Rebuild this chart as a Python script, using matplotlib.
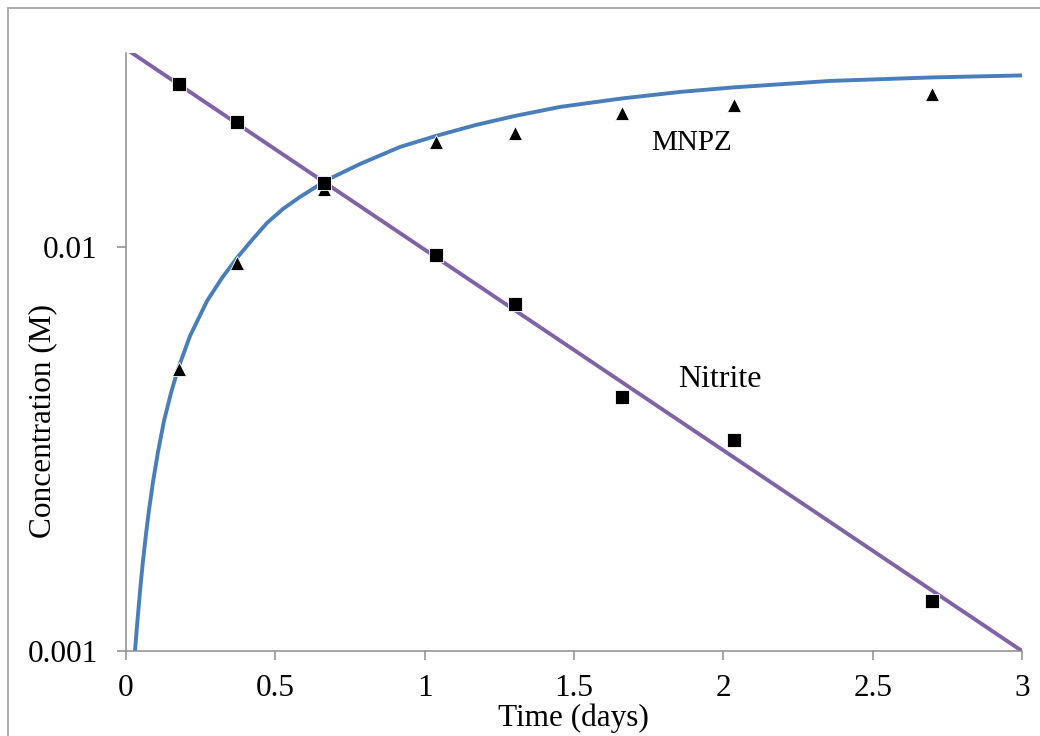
import matplotlib
matplotlib.use("Agg")
import matplotlib.pyplot as plt
from matplotlib.patches import Rectangle

# ---- data ----
time_nitrite_pts = [0.177, 0.372, 0.663, 1.038, 1.302, 1.661, 2.035, 2.698]
nitrite_pts = [0.02532, 0.02042, 0.01440, 0.00955, 0.00723, 0.00426, 0.00333, 0.00133]

time_mnpz_pts = [0.177, 0.372, 0.663, 1.038, 1.302, 1.661, 2.035, 2.698]
mnpz_pts = [0.00499, 0.00911, 0.01391, 0.01822, 0.01915, 0.02146, 0.02246, 0.02391]

# fitted nitrite line (straight on log axis)
time_nitrite_fit = [0.0, 3.0]
nitrite_fit = [0.0309, 0.0010]

# fitted MNPZ curve
time_mnpz_fit = [0.0301, 0.0368, 0.0435, 0.0502, 0.0569, 0.0670, 0.0770, 0.0904,
                 0.1071, 0.1272, 0.1507, 0.1741, 0.2143, 0.2712, 0.3214, 0.3716,
                 0.4219, 0.4721, 0.5257, 0.5826, 0.6730, 0.7835, 0.9174, 1.0379,
                 1.1719, 1.3025, 1.4531, 1.6607, 1.8549, 2.0324, 2.3571, 2.7020, 3.0]
mnpz_fit = [0.001000, 0.001153, 0.001315, 0.001491, 0.001671, 0.001948, 0.002234,
            0.002620, 0.003109, 0.003710, 0.004351, 0.004989, 0.006021, 0.007349,
            0.008381, 0.009393, 0.010406, 0.011467, 0.012422, 0.013298, 0.014648,
            0.016044, 0.017680, 0.018829, 0.020045, 0.021100, 0.022209, 0.023310,
            0.024190, 0.024820, 0.025757, 0.026280, 0.026577]

x_ticks = [0, 0.5, 1, 1.5, 2, 2.5, 3]
x_tick_labels = ["0", "0.5", "1", "1.5", "2", "2.5", "3"]
y_ticks = [0.001, 0.01]
y_tick_labels = ["0.001", "0.01"]

# ---- style ----
FONT = "Liberation Serif"
FS = 22.5
plt.rcParams["font.family"] = [FONT, "DejaVu Serif"]

W, H = 1040, 736
fig = plt.figure(figsize=(W / 100, H / 100), dpi=100)
ax = fig.add_axes([126 / W, 1 - 651 / H, (1022 - 126) / W, (651 - 53) / H])

blue = "#4A7EBB"
purple = "#7F63A6"
gray = "#8C8C8C"

ax.plot(time_nitrite_fit, nitrite_fit, color=purple, lw=2.8, zorder=2,
        solid_capstyle="butt")
ax.plot(time_mnpz_fit, mnpz_fit, color=blue, lw=2.8, zorder=2,
        solid_capstyle="butt", solid_joinstyle="round")
ax.plot(time_mnpz_pts, mnpz_pts, linestyle="none", marker="^", ms=10,
        color="black", mec="white", mew=0.6, zorder=3)
ax.plot(time_nitrite_pts, nitrite_pts, linestyle="none", marker="s", ms=10,
        color="black", mec="white", mew=0.6, zorder=4)

ax.set_yscale("log")
ax.set_xlim(0, 3)
ax.set_ylim(0.001, 0.0302)
ax.set_xticks(x_ticks)
ax.set_xticklabels(x_tick_labels)
ax.set_yticks(y_ticks)
ax.set_yticklabels(y_tick_labels)
ax.yaxis.set_minor_locator(matplotlib.ticker.NullLocator())

for s in ["top", "right"]:
    ax.spines[s].set_visible(False)
for s in ["left", "bottom"]:
    ax.spines[s].set_color(gray)
    ax.spines[s].set_linewidth(1.1)

ax.tick_params(axis="both", which="major", direction="out", length=6.5, width=1.1,
               color=gray, labelsize=FS, labelcolor="black")
ax.tick_params(axis="x", pad=10)
ax.tick_params(axis="y", pad=14)

ax.text(1.895, 0.01808, "MNPZ", fontsize=21, ha="center", va="center", color="black")
ax.text(1.989, 0.00469, "Nitrite", fontsize=23, ha="center", va="center", color="black")

fig.text(43 / W, 1 - 421 / H, "Concentration (M)", rotation=90, fontsize=FS,
         ha="center", va="center", color="black")
fig.text(573 / W, 1 - 718 / H, "Time (days)", fontsize=FS, ha="center", va="center",
         color="black")

# outer chart border (cut by the image edge on the right and bottom)
fig.patches.append(Rectangle((8 / W, -0.5), 2.0, (1 - 8 / H) + 0.5,
                             transform=fig.transFigure, fill=False,
                             edgecolor="#A6A6A6", lw=1.3, clip_on=False))

fig.savefig("out.png", dpi=100, facecolor="white")
